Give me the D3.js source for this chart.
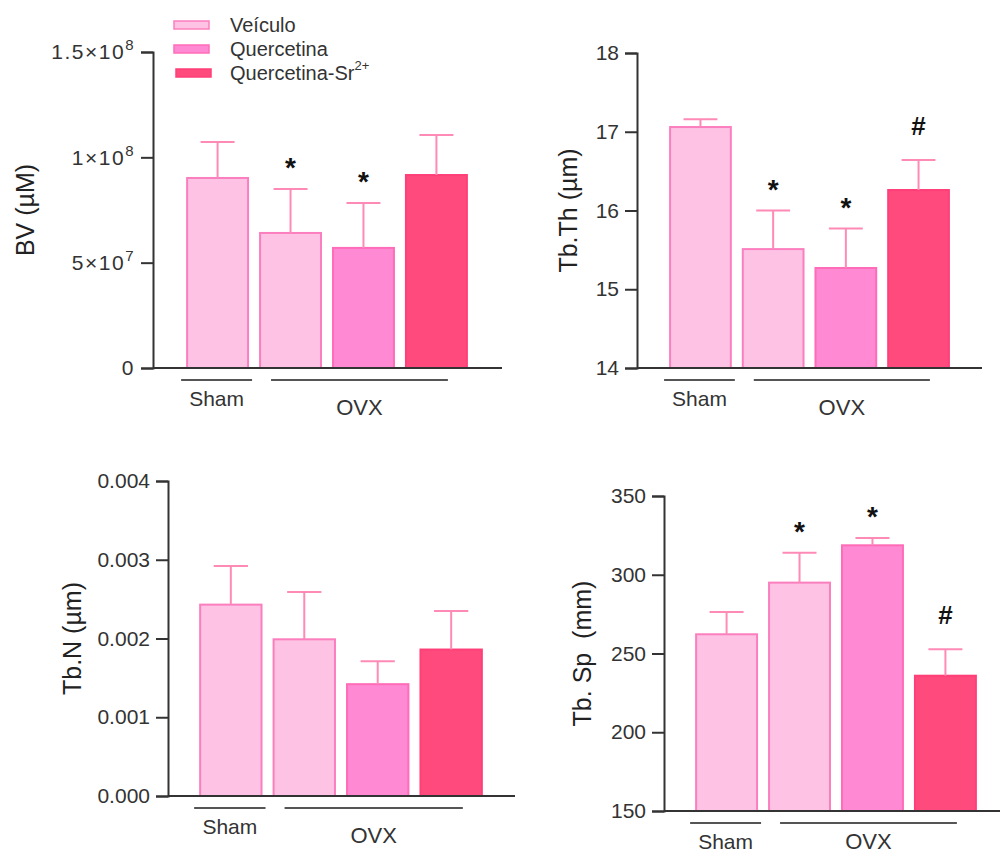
<!DOCTYPE html>
<html>
<head>
<meta charset="utf-8">
<script src="https://cdn.jsdelivr.net/npm/d3@7"></script>
<style>
  body { margin: 0; background: #fff; }
  svg { display: block; font-family: "Liberation Sans", Arial, sans-serif; }
</style>
</head>
<body>
<div id="chart"></div>
<script>
// groups (one bar each) and the series they belong to
const groups = ["Sham", "OVX-Veículo", "OVX-Quercetina", "OVX-Quercetina-Sr"];
const groupSeries = ["Veículo", "Veículo", "Quercetina", "Quercetina-Sr"];
const seriesNames = ["Veículo", "Quercetina", "Quercetina-Sr"];

// BV (µM)
const bvMean = [9.02e7, 6.41e7, 5.70e7, 9.16e7];
const bvErr = [1.71e7, 2.09e7, 2.13e7, 1.90e7];
const bvSig = ["", "*", "*", ""];
const bvTicks = [0, 5e7, 1e8, 1.5e8];
const bvTickLabels = [["0", ""], ["5×10", "7"], ["1×10", "8"], ["1.5×10", "8"]];

// Tb.Th (µm)
const thMean = [17.06, 15.51, 15.27, 16.26];
const thErr = [0.10, 0.49, 0.50, 0.38];
const thSig = ["", "*", "*", "#"];
const thTicks = [14, 15, 16, 17, 18];

// Tb.N (µm)
const nMean = [0.00243, 0.00199, 0.00142, 0.00186];
const nErr = [0.00049, 0.00060, 0.00029, 0.00049];
const nSig = ["", "", "", ""];
const nTicks = [0, 0.001, 0.002, 0.003, 0.004];

// Tb. Sp (mm)
const spMean = [262.2, 295.0, 318.7, 235.9];
const spErr = [14.1, 19.0, 4.6, 16.8];
const spSig = ["", "*", "*", "#"];
const spTicks = [150, 200, 250, 300, 350];

const fills = { "Veículo": "#fdc2e4", "Quercetina": "#ff89d2", "Quercetina-Sr": "#ff4a7e" };
const strokes = { "Veículo": "#fb7fbe", "Quercetina": "#ff6cb8", "Quercetina-Sr": "#ff3f77" };
const errColor = "#ff8ab6";
const axisColor = "#333";

const svg = d3.select("#chart").append("svg")
  .attr("width", 1000)
  .attr("height", 856);

// panel layout
const panels = [
  { mean: bvMean, err: bvErr, sig: bvSig, ticks: bvTicks, domain: [0, 1.5e8], title: "BV (µM)",
    ax: 153, yb: 368, yt: 52, xr: 502, band: [181, 473], titleX: 25 },
  { mean: thMean, err: thErr, sig: thSig, ticks: thTicks, domain: [14, 18], title: "Tb.Th (µm)",
    ax: 637, yb: 368, yt: 53, xr: 982, band: [664, 955], titleX: 568, fmt: d3.format("d") },
  { mean: nMean, err: nErr, sig: nSig, ticks: nTicks, domain: [0, 0.004], title: "Tb.N (µm)",
    ax: 168, yb: 796, yt: 481, xr: 515, band: [194, 488], titleX: 72, fmt: d3.format(".3f") },
  { mean: spMean, err: spErr, sig: spSig, ticks: spTicks, domain: [150, 350], title: "Tb. Sp  (mm)",
    ax: 664, yb: 811, yt: 496, xr: 1000, band: [690, 982], titleX: 582, fmt: d3.format("d"), ovxY: 38 },
];

panels.forEach((p, pi) => {
  const g = svg.append("g");
  const y = d3.scaleLinear().domain(p.domain).range([p.yb, p.yt]);
  const x = d3.scaleBand().domain(groups).range(p.band).paddingInner(0.137).paddingOuter(0.07);
  const bw = x.bandwidth();
  const rows = groups.map((k, i) => ({ key: k, series: groupSeries[i], v: p.mean[i], e: p.err[i], s: p.sig[i] }));

  // bars
  g.selectAll("rect.bar").data(rows).join("rect")
    .attr("class", "bar")
    .attr("x", d => x(d.key) + 1)
    .attr("width", bw - 2)
    .attr("y", d => y(d.v))
    .attr("height", d => p.yb - y(d.v))
    .attr("fill", d => fills[d.series])
    .attr("stroke", d => strokes[d.series])
    .attr("stroke-width", 2);

  // error bars (upper only)
  const eb = g.selectAll("g.err").data(rows).join("g").attr("class", "err")
    .attr("stroke", errColor).attr("stroke-width", 2);
  eb.append("line")
    .attr("x1", d => x(d.key) + bw / 2).attr("x2", d => x(d.key) + bw / 2)
    .attr("y1", d => y(d.v)).attr("y2", d => y(d.v + d.e));
  eb.append("line")
    .attr("x1", d => x(d.key) + bw / 2 - bw * 0.27).attr("x2", d => x(d.key) + bw / 2 + bw * 0.27)
    .attr("y1", d => y(d.v + d.e)).attr("y2", d => y(d.v + d.e));

  // significance marks
  g.selectAll("text.sig").data(rows.filter(d => d.s)).join("text")
    .attr("class", "sig")
    .attr("x", d => x(d.key) + bw / 2)
    .attr("y", d => d.s === "*" ? y(d.v + d.e) - 12 : y(d.v + d.e) - 25)
    .attr("text-anchor", "middle")
    .attr("font-size", d => d.s === "*" ? 28 : 26)
    .attr("font-weight", "bold")
    .attr("fill", "#111")
    .text(d => d.s);

  // y axis
  const yAxis = g.append("g")
    .attr("transform", `translate(${p.ax},0)`)
    .call(d3.axisLeft(y).tickValues(p.ticks).tickSize(12).tickPadding(6)
      .tickFormat(p.fmt || (() => "")));
  yAxis.select(".domain").attr("stroke", axisColor).attr("stroke-width", 2);
  yAxis.selectAll(".tick line").attr("stroke", axisColor).attr("stroke-width", 2);
  yAxis.selectAll(".tick text")
    .attr("fill", "#333")
    .attr("font-size", 21)
    .attr("font-family", "Liberation Sans, Arial, sans-serif");

  if (pi === 0) {
    yAxis.selectAll(".tick text").each(function (d, i) {
      const t = d3.select(this);
      const lab = bvTickLabels[i];
      t.text(null).attr("letter-spacing", 1.5);
      t.append("tspan").text(lab[0]);
      if (lab[1]) t.append("tspan").attr("font-size", 15).attr("dy", "-0.6em").text(lab[1]);
    });
  }

  // x axis baseline
  g.append("line")
    .attr("x1", p.ax).attr("x2", p.xr)
    .attr("y1", p.yb).attr("y2", p.yb)
    .attr("stroke", axisColor).attr("stroke-width", 2);

  // group brackets
  const gy = p.yb + 12;
  const shamL = x(groups[0]) - 5, shamR = x(groups[0]) + bw + 3;
  const ovxL = x(groups[1]) + 12, ovxR = x(groups[3]) + bw - 20;
  g.append("line").attr("x1", shamL).attr("x2", shamR).attr("y1", gy).attr("y2", gy)
    .attr("stroke", "#555").attr("stroke-width", 2);
  g.append("line").attr("x1", ovxL).attr("x2", ovxR).attr("y1", gy).attr("y2", gy)
    .attr("stroke", "#555").attr("stroke-width", 2);
  g.append("text").attr("x", (shamL + shamR) / 2).attr("y", p.yb + 38)
    .attr("text-anchor", "middle").attr("font-size", 21).attr("fill", "#333").text("Sham");
  g.append("text").attr("x", (ovxL + ovxR) / 2).attr("y", p.yb + (p.ovxY || 47))
    .attr("text-anchor", "middle").attr("font-size", 22).attr("fill", "#333").text("OVX");

  // y title
  g.append("text")
    .attr("transform", `translate(${p.titleX},${(p.yb + p.yt) / 2}) rotate(-90)`)
    .attr("text-anchor", "middle")
    .attr("dy", "0.35em")
    .attr("font-size", 25)
    .attr("fill", "#222")
    .style("white-space", "pre")
    .text(p.title);
});

// legend
const legendY = [25, 49, 73];
const leg = svg.append("g").selectAll("g").data(seriesNames).join("g")
  .attr("transform", (d, i) => `translate(174,${legendY[i]})`);
leg.append("rect")
  .attr("x", (d, i) => i === 2 ? 2 : 0)
  .attr("y", -4).attr("width", 35).attr("height", 8)
  .attr("fill", d => fills[d]).attr("stroke", d => strokes[d]).attr("stroke-width", 1.5);
const lt = leg.append("text")
  .attr("x", 56).attr("dy", "0.35em")
  .attr("font-size", 20).attr("fill", "#333")
  .text(d => d);
lt.filter(d => d === "Quercetina-Sr").append("tspan")
  .attr("font-size", 13).attr("dy", "-0.75em").text("2+");
</script>
</body>
</html>
